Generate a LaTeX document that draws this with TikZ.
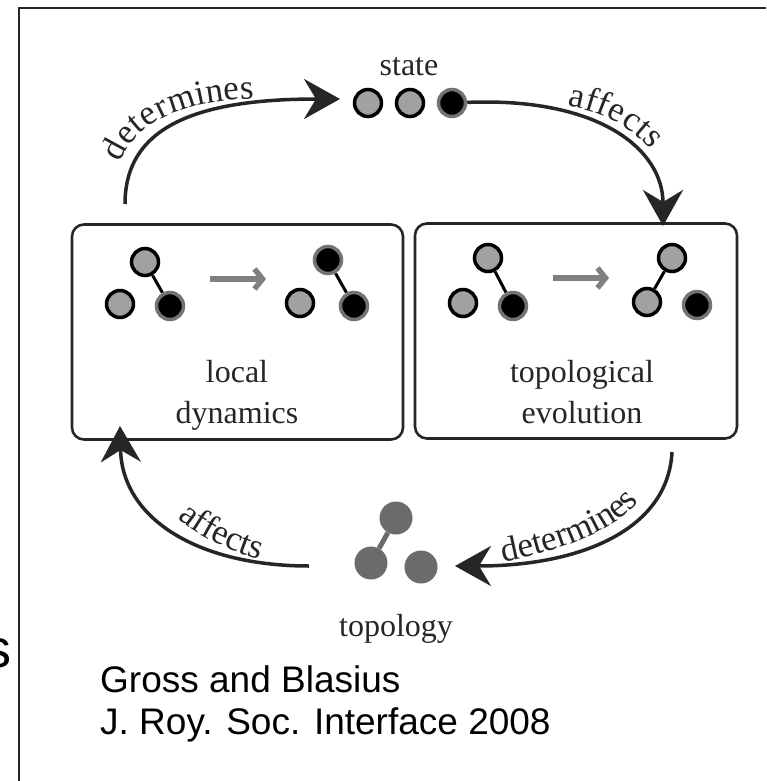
\documentclass[tikz,border=0pt]{standalone}
\usepackage{fontspec}
\setmainfont{Liberation Serif}
\newfontfamily\capfont{Liberation Sans}
\usetikzlibrary{arrows.meta,decorations.text,backgrounds}
\def\arcfont{\fontsize{35}{35}\selectfont\color{black!85}}

\begin{document}
\begin{tikzpicture}[x=1pt, y=-1pt,
  lbl/.style={font=\fontsize{32}{41}\selectfont, text=black!85, align=center},
  box/.style={draw=black!85, line width=2.6pt, rounded corners=12pt, minimum width=#1, minimum height=215pt},
  gn/.style={circle, draw=black, line width=3.5pt, fill=black!37, minimum size=27pt, inner sep=0pt},
  bn/.style={circle, draw=black!55, line width=3.5pt, fill=black, minimum size=27pt, inner sep=0pt},
  tn/.style={circle, fill=black!58, minimum size=33pt, inner sep=0pt},
  link/.style={draw=black, line width=3pt},
  flow/.style={draw=black!85, line width=3.5pt, -{Stealth[length=36pt, width=40pt, inset=12pt]}},
  trans/.style={draw=black!50, line width=5.5pt, -{Straight Barb[length=8pt, width=20pt, line width=5.5pt]}},
  arctext/.style 2 args={decorate, decoration={text along path, raise=4pt, text align={left indent=#2}, text={|\arcfont|#1}}}]
  \useasboundingbox (0,0) rectangle (766,781);
  \begin{scope}[on background layer]
    \fill[white] (0,0) rectangle (766,781);
  \end{scope}
  \draw[line width=2.5pt, black!85] (19,781) -- (19,8) -- (766,8);
  \node[box=331pt] (ld) at (237.5,332) {};
  \node[box=322pt] (te) at (576,331) {};
  \node[lbl] (ldt) at (237,395) {local\\dynamics};
  \node[lbl] (tet) at (582,392) {topological\\evolution};
  % state
  \foreach \i/\x/\s in {1/368/gn, 2/410/gn, 3/452/bn}
    \node[\s] (st\i) at (\x,103) {};
  \node[lbl, anchor=base] (stl) at (409,76) {state};
  % small graphs
  \node[gn] (a1) at (145,262) {};
  \node[gn] (a2) at (120,304) {};
  \node[bn] (a3) at (170,306) {};
  \node[bn] (b1) at (328,260) {};
  \node[gn] (b2) at (300,303) {};
  \node[bn] (b3) at (354,306) {};
  \node[gn] (c1) at (488,258) {};
  \node[gn] (c2) at (463,303) {};
  \node[bn] (c3) at (513,306) {};
  \node[gn] (d1) at (672,258) {};
  \node[gn] (d2) at (647,302) {};
  \node[bn] (d3) at (697,305) {};
  \begin{scope}[on background layer]
    \draw[link] (a1) -- (a3);
    \draw[link] (b1) -- (b3);
    \draw[link] (c1) -- (c3);
    \draw[link] (d1) -- (d2);
  \end{scope}
  \coordinate (la) at (210,279);
  \coordinate (lb) at (266,279);
  \coordinate (ra) at (553,278);
  \coordinate (rb) at (609,278);
  \draw[trans] (la) -- (lb);
  \draw[trans] (ra) -- (rb);
  % topology
  \node[tn] (t1) at (396,518) {};
  \node[tn] (t2) at (371,563) {};
  \node[tn] (t3) at (421,567) {};
  \begin{scope}[on background layer]
    \draw[draw=black!58, line width=5pt] (t1) -- (t2);
  \end{scope}
  \node[lbl, anchor=base] (tpl) at (396,636) {topology};
  % feedback loop
  \coordinate (p1) at (125,204);
  \coordinate (q1) at (340,99);
  \coordinate (q2) at (663,226);
  \coordinate (p3) at (672,452);
  \coordinate (q3) at (455,566);
  \coordinate (p4) at (309,566);
  \coordinate (q4) at (120,426);
  \draw[flow] (p1) .. controls (125,125) and (200,99) .. (q1);
  \draw[flow] (st3) .. controls (600,97) and (663,150) .. (q2);
  \draw[flow] (p3) .. controls (668,530) and (580,566) .. (q3);
  \draw[flow] (p4) .. controls (200,566) and (122,520) .. (q4);
  \path[arctext={determines}{40pt}] ([xshift=-9pt]p1) .. controls (116,118) and (198,90) .. ([yshift=-9pt]q1);
  \path[arctext={affects}{100pt}] ([yshift=-9pt]st3.east) .. controls (605,88) and (672,145) .. ([xshift=9pt]q2);
  \path[arctext={determines}{50pt}] ([yshift=-9pt]q3) .. controls (575,557) and (659,525) .. ([xshift=-9pt]p3);
  \path[arctext={affects}{110pt}] ([xshift=9pt]q4) .. controls (131,512) and (205,557) .. ([yshift=-9pt]p4);
  % caption
  \node[font=\capfont\fontsize{37}{42}\selectfont, align=left, anchor=north west, inner sep=0pt] (cap) at (100,665) {Gross and Blasius\\J. Roy. Soc. Interface 2008};
  \node[font=\capfont\fontsize{54}{54}\selectfont, anchor=base east, inner sep=0pt] (cut) at (12,667) {s};
\end{tikzpicture}
\end{document}
